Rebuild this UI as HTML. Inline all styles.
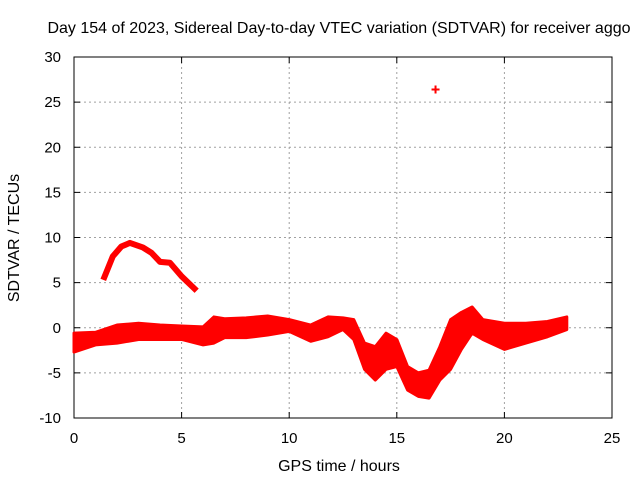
<!DOCTYPE html>
<html><head><meta charset="utf-8"><style>
body{margin:0;background:#fff;font-family:"Liberation Sans",sans-serif}
svg text{font-family:"Liberation Sans",sans-serif;font-size:15px;fill:#000}
svg text.big{font-size:16px}
</style></head><body>
<svg width="640" height="480">
<text class="big" x="339" y="33" text-anchor="middle">Day 154 of 2023, Sidereal Day-to-day VTEC variation (SDTVAR) for receiver aggo</text>
<g id="grid"></g>
<g id="ticks"></g>
<rect x="74" y="57" width="538" height="361" fill="none" stroke="#000" stroke-width="1"/>
<g id="marks"></g>
<text class="big" x="339" y="471" text-anchor="middle">GPS time / hours</text>
<text class="big" transform="translate(19,238) rotate(-90)" text-anchor="middle">SDTVAR / TECUs</text>
</svg>
<script>
const xTicks=[0,5,10,15,20,25];
const yTicks=[-10,-5,0,5,10,15,20,25,30];
const bandTimes=[0,1,2,3,4,5,6,6.5,7,8,9,10,11,11.8,12.5,13,13.5,14,14.5,15,15.5,16,16.5,17,17.5,18,18.5,19,20,21,22,22.9];
const bandUpper=[-0.6,-0.5,0.3,0.5,0.3,0.2,0.1,1.2,1,1.1,1.3,0.9,0.3,1.2,1.1,0.9,-1.7,-2.1,-0.6,-1.3,-4.3,-5,-4.7,-2.1,0.9,1.7,2.3,0.9,0.5,0.5,0.7,1.2];
const bandLower=[-2.7,-1.9,-1.7,-1.3,-1.3,-1.3,-1.9,-1.7,-1.1,-1.1,-0.8,-0.4,-1.5,-1,-0.2,-1.3,-4.6,-5.8,-4.6,-4.3,-6.9,-7.6,-7.8,-5.8,-4.6,-2.4,-0.6,-1.3,-2.4,-1.7,-1,-0.2];
const arcTimes=[1.36,1.8,2.2,2.6,3.2,3.6,4.0,4.46,5.0,5.7];
const arcValues=[5.3,7.9,9.0,9.4,8.9,8.3,7.3,7.2,5.7,4.1];
const outlierTimes=[16.8];
const outlierValues=[26.4];
const X=t=>74+t*538/25, Y=v=>418-(v+10)*361/40;
const NS="http://www.w3.org/2000/svg";
function mk(tag,attrs,parent){const e=document.createElementNS(NS,tag);for(const k in attrs)e.setAttribute(k,attrs[k]);parent.appendChild(e);return e;}
const grid=document.getElementById('grid'),ticks=document.getElementById('ticks'),marks=document.getElementById('marks');
xTicks.forEach(t=>{
 if(t>0&&t<25){const l=mk('line',{x1:X(t),x2:X(t),y1:57,y2:418,stroke:'#a0a0a0','stroke-dasharray':'2,3'},grid);
 
 }
 mk('line',{x1:X(t),x2:X(t),y1:418,y2:412,stroke:'#000'},ticks);mk('line',{x1:X(t),x2:X(t),y1:57,y2:63,stroke:'#000'},ticks);
 const tx=mk('text',{x:X(t),y:443,'text-anchor':'middle'},ticks);tx.textContent=t;
 
 
});
yTicks.forEach(v=>{
 if(v>-10&&v<30){const l=mk('line',{x1:74,x2:612,y1:Y(v),y2:Y(v),stroke:'#a0a0a0','stroke-dasharray':'2,3'},grid);
 
 }
 mk('line',{x1:74,x2:80,y1:Y(v),y2:Y(v),stroke:'#000'},ticks);mk('line',{x1:612,x2:606,y1:Y(v),y2:Y(v),stroke:'#000'},ticks);
 const tx=mk('text',{x:61,y:Y(v)+5,'text-anchor':'end'},ticks);tx.textContent=v;
 
 
});
let pts=bandTimes.map((t,i)=>X(t)+','+Y(bandUpper[i]));
for(let i=bandTimes.length-1;i>=0;i--)pts.push(X(bandTimes[i])+','+Y(bandLower[i]));
const band=mk('polygon',{points:pts.join(' '),fill:'#ff0000',stroke:'#ff0000','stroke-width':3,'stroke-linejoin':'round'},marks);


const arc=mk('polyline',{points:arcTimes.map((t,i)=>X(t)+','+Y(arcValues[i])).join(' '),fill:'none',stroke:'#ff0000','stroke-width':6,'stroke-linejoin':'round'},marks);


outlierTimes.forEach((t,i)=>{
 const g=mk('path',{d:`M${X(t)-4},${Y(outlierValues[i])}h8M${X(t)},${Y(outlierValues[i])-4}v8`,stroke:'#ff0000','stroke-width':2},marks);
 
 
});
</script>
</body></html>
